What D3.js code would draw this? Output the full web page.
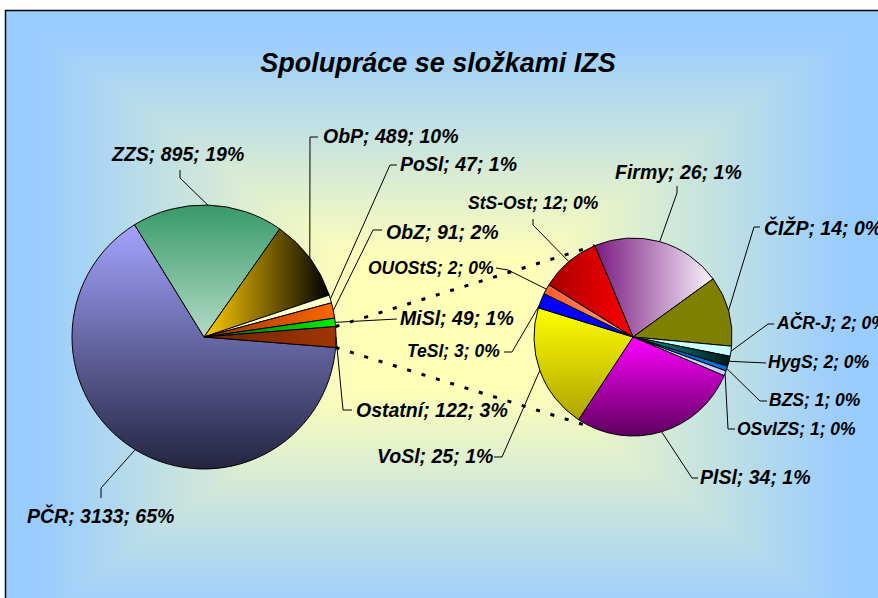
<!DOCTYPE html>
<meta charset="utf-8">
<style>
body { margin: 0; background: #fff; }
text { font-family: "Liberation Sans", Arial, sans-serif; font-weight: bold; font-style: italic; fill: #000; }
.slice { stroke: #000; stroke-width: 1; }
.leader { fill: none; stroke: #000; stroke-width: 1; }
.connector { fill: none; stroke: #000; stroke-width: 3; stroke-dasharray: 4 11; }
</style>
<body>
<svg width="878" height="598"></svg>
<script src="https://d3js.org/d3.v7.min.js"></script>
<script>

// data
var title = "Spolupráce se složkami IZS";
var mainNames  = ["PČR", "ZZS", "ObP", "PoSl", "ObZ", "MiSl", "Ostatní"];
var mainValues = [3133, 895, 489, 47, 91, 49, 122];
var otherNames  = ["Firmy", "ČIŽP", "AČR-J", "HygS", "BZS", "OSvIZS", "PlSl", "VoSl", "TeSl", "OUOStS", "StS-Ost"];
var otherValues = [26, 14, 2, 2, 1, 1, 34, 25, 3, 2, 12];

// fills: s = solid, h = left->right gradient, v = top->bottom gradient
var fills = {
  "PČR": ["v", "#a3a3ff", "#242440"],
  "ZZS": ["v", "#379a68", "#b3dac6"],
  "ObP": ["h", "#ffcc00", "#000000"],
  "PoSl": ["s", "#ffffcc"],
  "ObZ": ["h", "#993300", "#ff6600"],
  "MiSl": ["h", "#006600", "#00ee00"],
  "Ostatní": ["h", "#6e2400", "#a03500"],
  "Firmy": ["h", "#7a1a80", "#f8f2fc"],
  "ČIŽP": ["s", "#808000"],
  "AČR-J": ["s", "#ccffff"],
  "HygS": ["h", "#00a0a0", "#001818"],
  "BZS": ["s", "#0070dd"],
  "OSvIZS": ["s", "#ccccff"],
  "PlSl": ["v", "#ff00ff", "#5e005e"],
  "VoSl": ["v", "#ffff00", "#aea400"],
  "TeSl": ["s", "#0000ff"],
  "OUOStS": ["h", "#ff5a28", "#ffa888"],
  "StS-Ost": ["h", "#a80000", "#ff0000"]
};

// label placement (left x, baseline y, leader bend points, font size, where on slice the leader starts)
var labelPos = {
  "PČR":     {x: 27,  y: 523, pts: [[101, 488], [101, 498]]},
  "ZZS":     {x: 112, y: 161, pts: [[180, 178], [180, 170]]},
  "ObP":     {x: 323, y: 143, pts: [[310, 137], [318, 137]]},
  "PoSl":    {x: 400, y: 171, pts: [[390, 165], [397, 165]]},
  "ObZ":     {x: 386, y: 239, pts: [[373, 230], [382, 230]]},
  "MiSl":    {x: 400, y: 325, pts: [[397, 319]]},
  "Ostatní": {x: 356, y: 417, pts: [[343, 410], [352, 410]]},
  "Firmy":   {x: 615, y: 179, pts: [[677, 193], [677, 186]]},
  "ČIŽP":    {x: 764, y: 235, pts: [[754, 227], [760, 227]]},
  "AČR-J":   {x: 777, y: 329, pts: [[768, 324], [774, 324]], fs: 17.5},
  "HygS":    {x: 768, y: 368, pts: [[766, 363]], fs: 17.5},
  "BZS":     {x: 769, y: 406, pts: [[760, 401], [767, 401]], fs: 17.5},
  "OSvIZS":  {x: 737, y: 435, pts: [[728, 429], [735, 429]], fs: 17.5},
  "PlSl":    {x: 700, y: 484, pts: [[692, 478], [698, 478]]},
  "VoSl":    {x: 377, y: 463, pts: [[502, 457], [494, 457]]},
  "TeSl":    {x: 407, y: 357, pts: [[512, 352], [504, 352]], fs: 17.5, f: 0.15},
  "OUOStS":  {x: 368, y: 274, pts: [[508, 270], [496, 268]], fs: 17.5},
  "StS-Ost": {x: 468, y: 209, pts: [[533, 225], [533, 219]], fs: 17.5}
};

var svg = d3.select("svg");
var defs = svg.append("defs");

// chart area with rectangular "from center" shading
var bx0 = 5.5, by0 = 10.5, bx1 = 880, by1 = 640, bcx = 442, bcy = 325;
var mix = d3.interpolateRgb("#ffffb8", "#99ccff");
function shade(t) { return mix(Math.max(0, Math.min(1, (t - 0.2) / 0.72))); }
function shadeStops(g, fromEdge) {
  d3.range(0, 1.001, 0.05).forEach(function(t) {
    g.append("stop").attr("offset", t).attr("stop-color", shade(fromEdge ? 1 - t : t));
  });
}
var gv = defs.append("linearGradient").attr("id", "bgv").attr("gradientUnits", "userSpaceOnUse")
  .attr("x1", 0).attr("y1", by0).attr("x2", 0).attr("y2", by1);
d3.range(0, 1.001, 0.025).forEach(function(t) {
  gv.append("stop").attr("offset", t).attr("stop-color", shade(Math.abs(t * 2 - 1)));
});
var gl = defs.append("linearGradient").attr("id", "bgl").attr("gradientUnits", "userSpaceOnUse")
  .attr("x1", bx0).attr("y1", 0).attr("x2", bcx).attr("y2", 0);
shadeStops(gl, true);
var gr = defs.append("linearGradient").attr("id", "bgr").attr("gradientUnits", "userSpaceOnUse")
  .attr("x1", bcx).attr("y1", 0).attr("x2", bx1).attr("y2", 0);
shadeStops(gr, false);

svg.append("rect").attr("x", bx0).attr("y", by0).attr("width", bx1 - bx0).attr("height", by1 - by0)
  .attr("fill", "url(#bgv)");
svg.append("path").attr("fill", "url(#bgl)")
  .attr("d", "M" + bx0 + "," + by0 + "L" + bcx + "," + bcy + "L" + bx0 + "," + by1 + "Z");
svg.append("path").attr("fill", "url(#bgr)")
  .attr("d", "M" + bx1 + "," + by0 + "L" + bcx + "," + bcy + "L" + bx1 + "," + by1 + "Z");
svg.append("rect").attr("x", bx0).attr("y", by0).attr("width", bx1 - bx0).attr("height", by1 - by0)
  .attr("fill", "none").attr("stroke", "#000").attr("stroke-width", 1.5);

// title
svg.append("text").attr("x", 438).attr("y", 72).attr("text-anchor", "middle")
  .style("font-size", "27px").text(title);

// pies
var total = d3.sum(mainValues);
var pct = d3.format(".0%");
var mainC = [204, 337], mainR = 132;
var otherC = [633, 337], otherR = 99;

var restAngle = 2 * Math.PI * mainValues[mainValues.length - 1] / total;
var mainStart = Math.PI / 2 + restAngle / 2;
var mainArcs = d3.pie().sort(null).startAngle(mainStart).endAngle(mainStart + 2 * Math.PI)
  .value(function(d) { return d.value; })(mainNames.map(function(n, i) { return {name: n, value: mainValues[i]}; }));

var otherStart = -22.7 * Math.PI / 180;
var otherArcs = d3.pie().sort(null).startAngle(otherStart).endAngle(otherStart + 2 * Math.PI)
  .value(function(d) { return d.value; })(otherNames.map(function(n, i) { return {name: n, value: otherValues[i]}; }));

function polar(c, r, a) { return [c[0] + r * Math.sin(a), c[1] - r * Math.cos(a)]; }

// dotted connectors from "Ostatní" to the second pie
var rest = mainArcs[mainArcs.length - 1];
var conn = [
  [polar(mainC, mainR, rest.startAngle), polar(otherC, otherR, otherStart)],
  [polar(mainC, mainR, rest.endAngle), polar(otherC, otherR, Math.PI + 24 * Math.PI / 180)]
];
svg.selectAll(".connector").data(conn).enter().append("path")
  .attr("class", "connector")
  .attr("d", function(d) { return d3.line()(d); });

var gid = 0;
function fillFor(name) {
  var f = fills[name];
  if (f[0] == "s") return f[1];
  var id = "sl" + (gid++);
  var g = defs.append("linearGradient").attr("id", id)
    .attr("x1", 0).attr("y1", 0).attr("x2", f[0] == "h" ? 1 : 0).attr("y2", f[0] == "v" ? 1 : 0);
  g.append("stop").attr("offset", 0).attr("stop-color", f[1]);
  g.append("stop").attr("offset", 1).attr("stop-color", f[2]);
  return "url(#" + id + ")";
}

function drawPie(arcs, c, r) {
  var arc = d3.arc().innerRadius(0).outerRadius(r);
  var g = svg.append("g").attr("transform", "translate(" + c[0] + "," + c[1] + ")");
  g.selectAll("path").data(arcs).enter().append("path")
    .attr("class", "slice")
    .attr("fill", function(d) { return fillFor(d.data.name); })
    .attr("d", arc);

  arcs.forEach(function(d) {
    var lp = labelPos[d.data.name];
    var f = lp.f == null ? 0.5 : lp.f;
    var start = polar(c, r, d.startAngle + f * (d.endAngle - d.startAngle));
    svg.append("path").attr("class", "leader")
      .attr("d", d3.line()([start].concat(lp.pts)));
    svg.append("text").attr("x", lp.x).attr("y", lp.y)
      .style("font-size", (lp.fs || 19.5) + "px")
      .text(d.data.name + "; " + d.data.value + "; " + pct(d.data.value / total));
  });
}

drawPie(mainArcs, mainC, mainR);
drawPie(otherArcs, otherC, otherR);

</script>
</body>
